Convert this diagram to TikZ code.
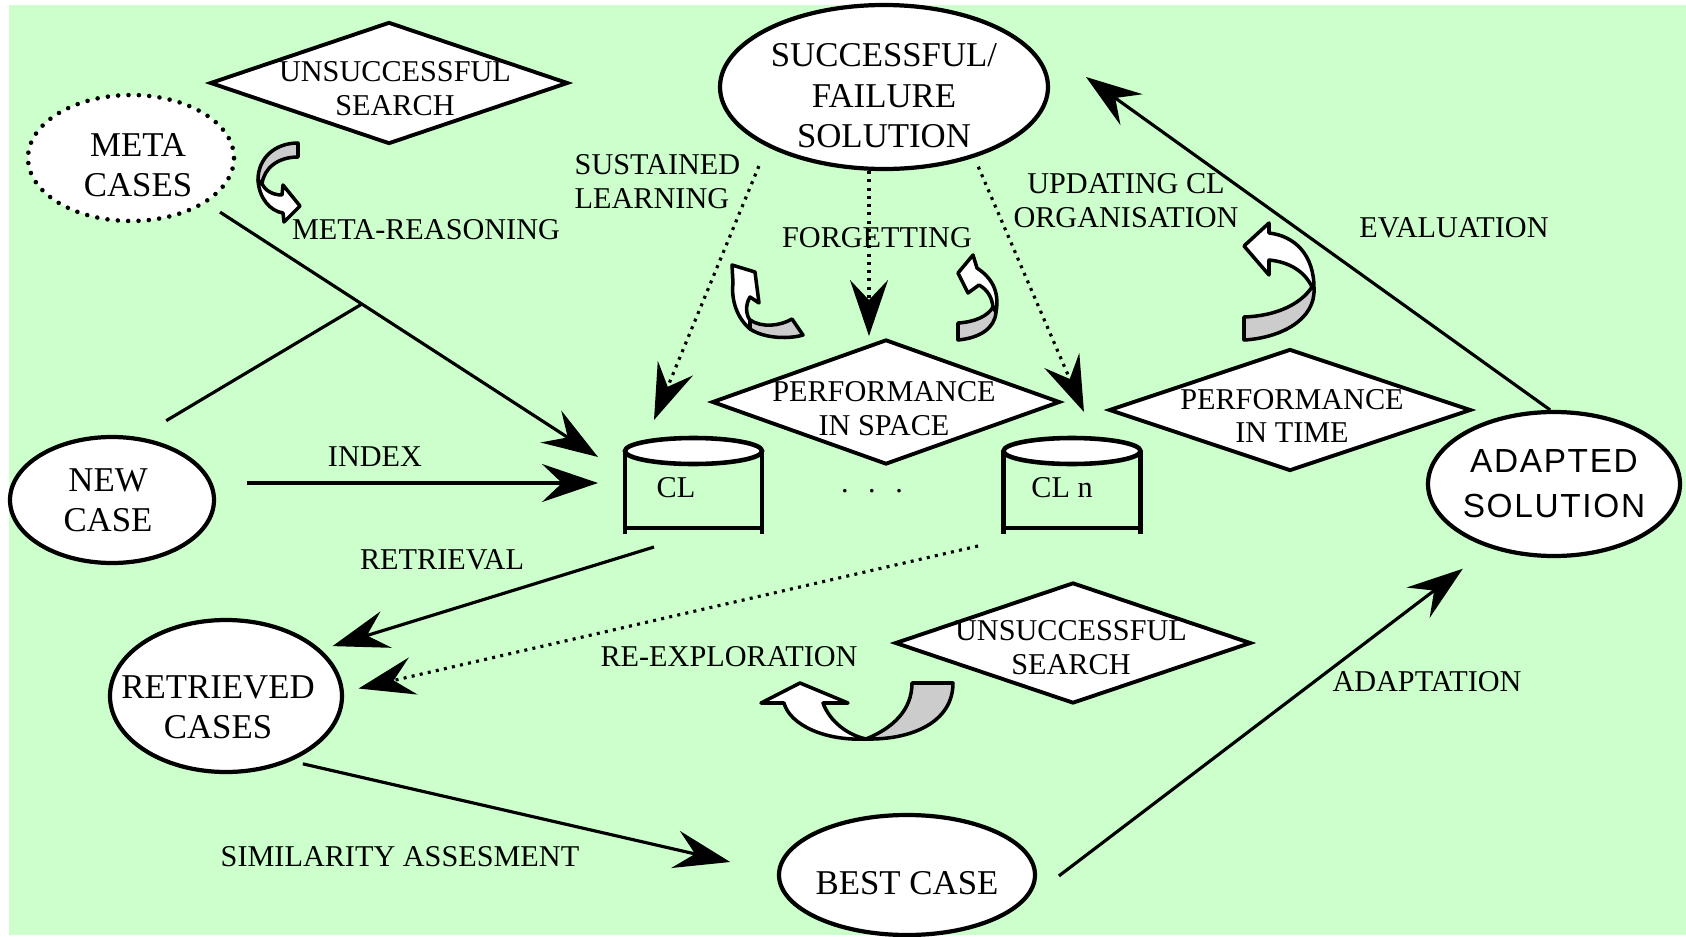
\documentclass[tikz,border=0pt]{standalone}
\usepackage{fontspec}
\setmainfont{Liberation Serif}
\newfontfamily\arialfont[LetterSpace=5]{Liberation Sans}
\usetikzlibrary{shapes.geometric,arrows.meta}
\definecolor{bgreen}{RGB}{204,255,204}
\definecolor{ribbongray}{RGB}{204,204,204}
\newcommand\lbltext{\fontsize{8.6}{9.6}\selectfont}
\newcommand\boxtext{\fontsize{9.9}{11.5}\selectfont}

\begin{document}
\begin{tikzpicture}[x=0.1mm, y=-0.1mm,
  state/.style={ellipse, draw, fill=white, line width=1.2pt, inner sep=0pt},
  decision/.style={diamond, draw, fill=white, line width=1.1pt, inner sep=0pt},
  inside/.style={font=\boxtext, align=center},
  lbl/.style={font=\lbltext, align=center, inner sep=0pt},
  flow/.style={line width=0.9pt, -{Stealth[length=5.6mm, width=3.8mm, inset=2mm]}},
  dotflow/.style={flow, dash pattern=on 0.85pt off 1.5pt},
  link/.style={line width=0.9pt},
  vessel/.style={line width=1.3pt},
  ribbon/.style={draw, line width=1pt, line join=round, fill=ribbongray},
  ribbonfront/.style={ribbon, fill=white}]
\useasboundingbox (0,0) rectangle (1686,937);
\fill[white] (0,0) rectangle (1686,937);
\fill[bgreen] (9,5) rectangle (1686,935);

\node[state, dash pattern=on 0pt off 2.95pt, line cap=round, line width=1.3pt, minimum width=20.6mm, minimum height=12.6mm,
  label={[inside, xshift=0.7mm, yshift=-0.7mm]center:META\\CASES}] (meta) at (131,158) {};
\node[state, minimum width=32.8mm, minimum height=16.4mm,
  label={[inside, yshift=-0.9mm]center:SUCCESSFUL/\\FAILURE\\SOLUTION}] (sfs) at (884,87) {};
\node[state, minimum width=20.4mm, minimum height=12.6mm,
  label={[inside, xshift=-0.4mm]center:NEW\\CASE}] (newcase) at (112,500) {};
\node[state, minimum width=23.2mm, minimum height=15.2mm,
  label={[inside, xshift=-0.8mm, yshift=-1.1mm]center:RETRIEVED\\CASES}] (retr) at (226,696) {};
\node[state, minimum width=25.6mm, minimum height=12mm,
  label={[inside, yshift=-0.8mm]center:BEST CASE}] (best) at (907,875) {};
\node[state, minimum width=25.2mm, minimum height=14.4mm,
  label={[inside, font=\arialfont\fontsize{9.5}{12.8}\selectfont]center:ADAPTED\\SOLUTION}] (adapt) at (1554,484) {};

\node[decision, minimum width=35.8mm, minimum height=12.2mm,
  label={[lbl, xshift=0.6mm, yshift=-0.55mm]center:UNSUCCESSFUL\\SEARCH}] (search1) at (389,83) {};
\node[decision, minimum width=34.8mm, minimum height=12.5mm,
  label={[lbl, xshift=-0.2mm, yshift=-0.65mm]center:PERFORMANCE\\IN SPACE}] (pis) at (886,402) {};
\node[decision, minimum width=36.2mm, minimum height=12.2mm,
  label={[lbl, xshift=0.2mm, yshift=-0.6mm]center:PERFORMANCE\\IN TIME}] (pit) at (1290,410) {};
\node[decision, minimum width=35.6mm, minimum height=12.1mm,
  label={[lbl, xshift=-0.2mm, yshift=-0.5mm]center:UNSUCCESSFUL\\SEARCH}] (search2) at (1073,643) {};

\foreach \cx in {693.5,1072}{
  \draw[vessel] (\cx-68.5,451) -- (\cx-68.5,534) (\cx+68.5,451) -- (\cx+68.5,534) (\cx-68.5,528) -- (\cx+68.5,528);
  \draw[vessel, fill=white] (\cx,451) ellipse [x radius=6.85mm, y radius=1.3mm];
}
\node[lbl] (cl) at (676,488) {CL};
\node[lbl] (cln) at (1062,488) {CL n};
\node[lbl] (dots) at (872,491) {.\hspace{1.95mm}.\hspace{1.95mm}.};

\node[lbl] (reasoning) at (426,230) {META-REASONING};
\node[lbl, anchor=west, align=left] (sustained) at (574,182) {SUSTAINED\\LEARNING};
\node[lbl] (forgetting) at (877,238) {FORGETTING};
\node[lbl] (updating) at (1126,201) {UPDATING CL\\ORGANISATION};
\node[lbl] (evaluation) at (1454,228) {EVALUATION};
\node[lbl] (index) at (375,457) {INDEX};
\node[lbl] (retrieval) at (442,560) {RETRIEVAL};
\node[lbl] (reexploration) at (729,657) {RE-EXPLORATION};
\node[lbl] (adaptation) at (1427,682) {ADAPTATION};
\node[lbl] (similarity) at (400,857) {SIMILARITY ASSESMENT};

\coordinate (cl-a) at (598,457);
\coordinate (cl-b) at (598,483);
\coordinate (cl-c) at (654,547);
\coordinate (cl-t) at (654,420);
\coordinate (cln-t) at (1084,412);
\coordinate (cln-c) at (978,546);
\coordinate (pis-t) at (869,336);
\coordinate (sfs-e) at (1086,77);
\coordinate (join) at (362,304);

\draw[flow, shorten <=1.6mm] (meta.-31) -- (cl-a);
\draw[link, shorten <=3.2mm] (newcase.67) -- (join);
\draw[flow, shorten <=3.1mm] (newcase.east |- cl-b) -- (cl-b);
\draw[flow, shorten >=1.2mm] (cl-c) -- (retr.26);
\draw[dotflow, shorten >=1.5mm] (cln-c) -- (retr.2);
\draw[flow, shorten <=1.2mm, shorten >=4.8mm] (retr.-45) -- (best.179);
\draw[flow, shorten <=4.6mm, shorten >=3.4mm] (best.-14) -- (adapt.-135);
\draw[flow] (adapt.93) -- (sfs-e);
\draw[dotflow, shorten <=2.1mm] (sfs.207) -- (cl-t);
\draw[dotflow] (sfs.south -| pis-t) -- (pis-t);
\draw[dotflow, shorten <=1mm] (sfs.-38) -- (cln-t);

\path[ribbon] (298,143) .. controls (275,143) and (258,158) .. (258,180) -- (262,184) .. controls (264,168) and (278,157) .. (298,157) -- cycle;
\path[ribbonfront] (258,180) .. controls (259,198) and (270,211) .. (283,213) -- (284,222) -- (300,206) -- (283,185) -- (282,195) .. controls (272,195) and (265,190) .. (262,184) -- cycle;

\path[ribbon] (750,329) .. controls (765,339) and (790,339) .. (803,335) -- (792,319) .. controls (780,326) and (762,328) .. (750,320) -- cycle;
\path[ribbonfront] (750,329) .. controls (737,318) and (731,300) .. (733,283) -- (732,265) -- (755,272) -- (759,303) -- (750,297) .. controls (745,305) and (746,315) .. (750,320) -- cycle;

\path[ribbon] (996,312) .. controls (995,328) and (980,338) .. (958,340) -- (958,323) .. controls (975,322) and (988,316) .. (993,307) -- cycle;
\path[ribbonfront] (996,312) .. controls (999,295) and (995,280) .. (977,268) -- (973,255) -- (958,273) -- (968,293) -- (979,285) .. controls (988,290) and (992,298) .. (993,307) -- cycle;

\path[ribbon] (1314,288) .. controls (1316,320) and (1280,338) .. (1244,340) -- (1244,317) .. controls (1275,316) and (1300,305) .. (1312,287) -- cycle;
\path[ribbonfront] (1244,246) -- (1269,223) -- (1269,233) .. controls (1295,236) and (1314,255) .. (1314,288) -- (1312,287) .. controls (1305,272) and (1290,262) .. (1269,260) -- (1269,275) -- cycle;

\path[ribbon] (953,683) .. controls (953,722) and (912,740) .. (866,739) .. controls (893,728) and (912,710) .. (912,683) -- cycle;
\path[ribbonfront] (866,739) .. controls (825,741) and (790,725) .. (784,703) -- (761,703) -- (800,683) -- (848,703) -- (823,703) .. controls (830,722) and (848,735) .. (866,739) -- cycle;
\end{tikzpicture}
\end{document}
